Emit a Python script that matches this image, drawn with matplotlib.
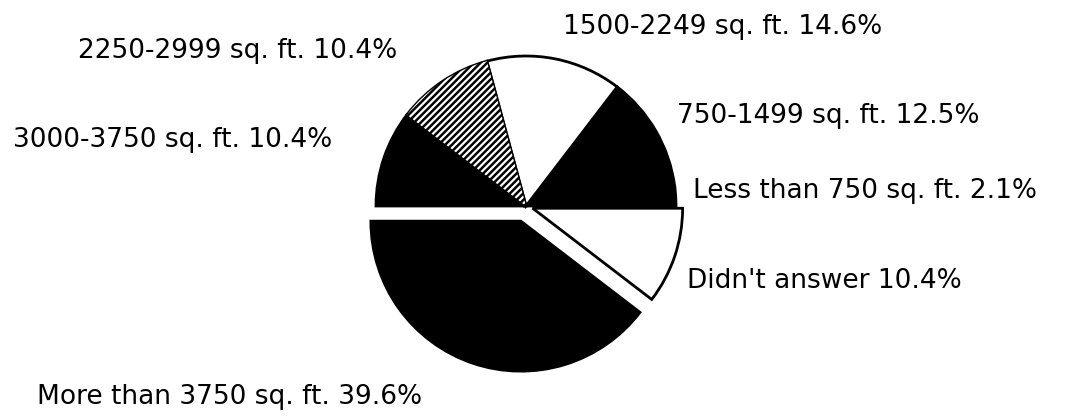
import matplotlib
matplotlib.use("Agg")
import matplotlib.pyplot as plt
from matplotlib.patches import Wedge

# house size survey
labels = ["Less than 750 sq. ft.", "750-1499 sq. ft.", "1500-2249 sq. ft.",
          "2250-2999 sq. ft.", "3000-3750 sq. ft.", "More than 3750 sq. ft.",
          "Didn't answer"]
sizes = [2.1, 12.5, 14.6, 10.4, 10.4, 39.6, 10.4]
fills = ["black", "black", "white", "hatch", "black", "black", "white"]
explode = [0, 0, 0, 0, 0, 16, 7]

# label anchors in pixels (left edge, baseline from top)
label_pos = [(693, 198), (677, 123), (563, 34), (78, 58), (13, 147),
             (37, 404), (687, 288)]

W, H = 1090, 418
fig = plt.figure(figsize=(W / 100, H / 100), dpi=100)
ax = fig.add_axes([0, 0, 1, 1])

plt.rcParams['hatch.linewidth'] = 1.6

facecolors = ["black" if f == "hatch" else f for f in fills]
wedges, _ = ax.pie(sizes, colors=facecolors, explode=explode, startangle=0,
                   counterclock=True, center=(526, H - 206), radius=150,
                   wedgeprops=dict(edgecolor="black", linewidth=2))

for w, f in zip(wedges, fills):
    if f == "hatch":
        ax.add_patch(Wedge(w.center, w.r, w.theta1, w.theta2, facecolor="none",
                           edgecolor="white", hatch="/////", linewidth=0))

for lab, val, (x, y) in zip(labels, sizes, label_pos):
    ax.text(x, H - y, f"{lab} {val}%", fontsize=19, ha="left", va="baseline",
            family="DejaVu Sans", color="black")

ax.set_xlim(0, W)
ax.set_ylim(0, H)
ax.set_aspect("equal")
ax.axis("off")

fig.savefig("out.png", dpi=100, facecolor="white")
